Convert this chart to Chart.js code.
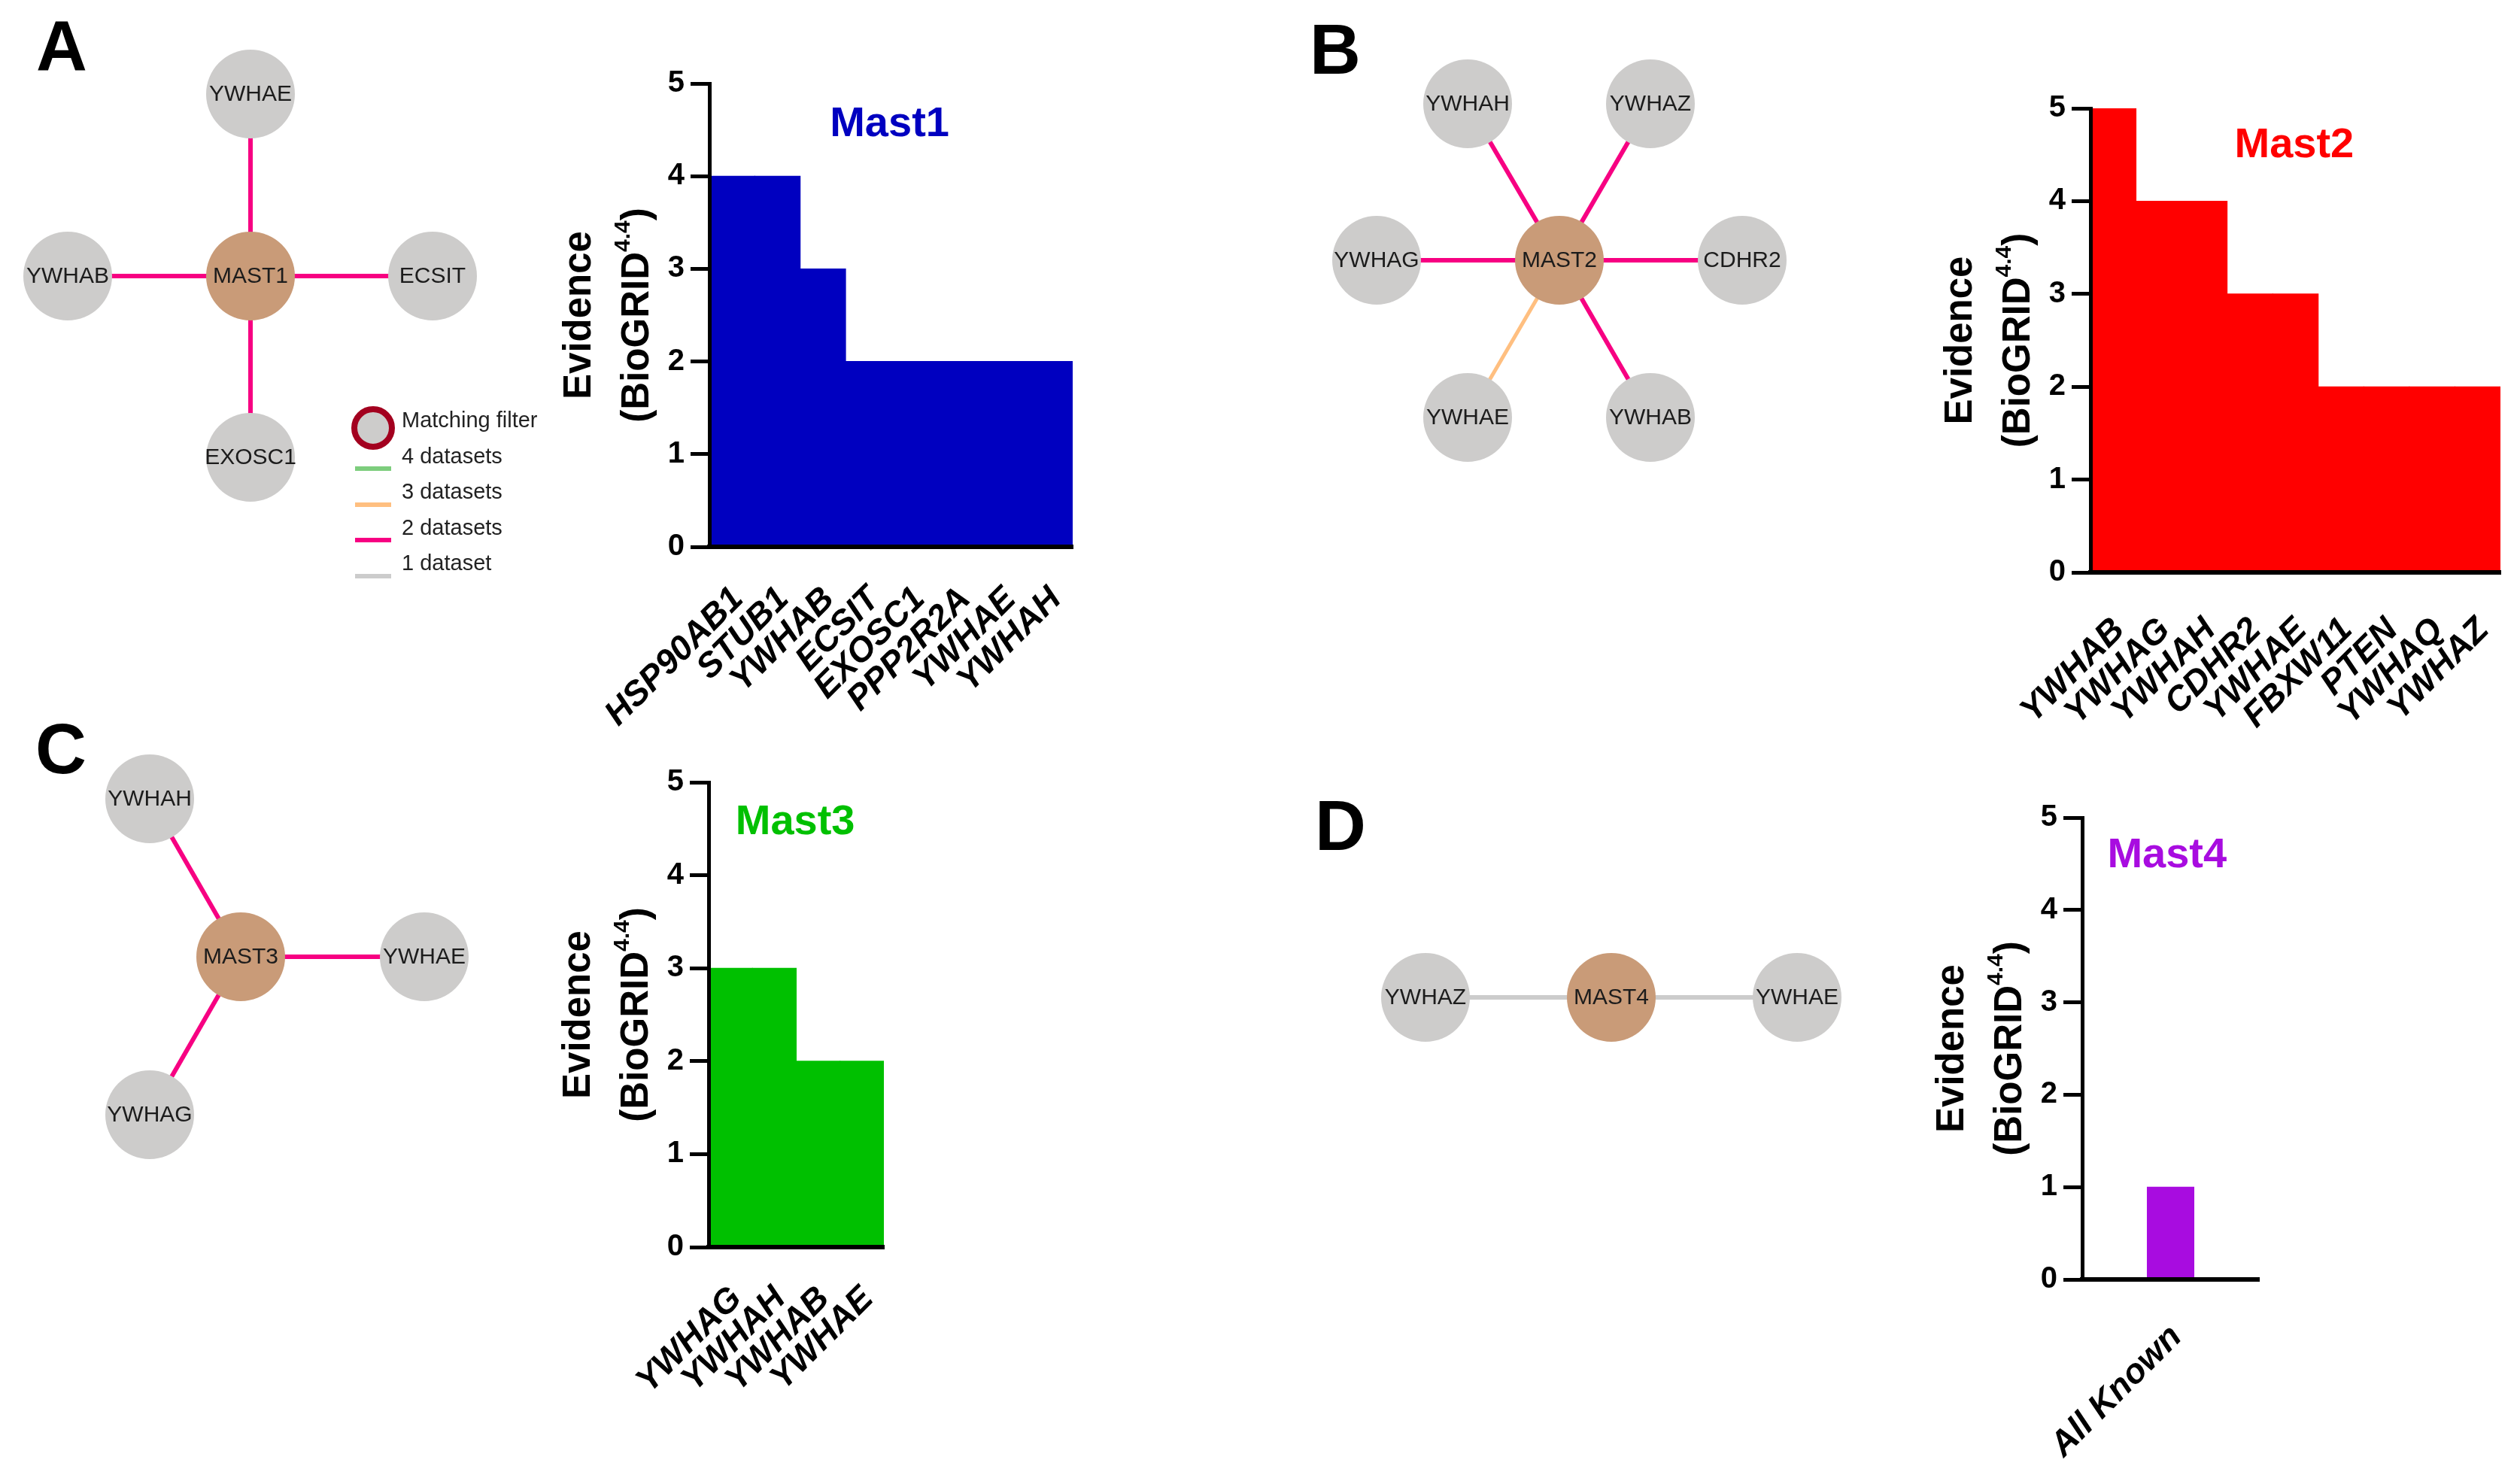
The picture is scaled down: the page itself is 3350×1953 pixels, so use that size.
<!DOCTYPE html>
<html>
<head>
<meta charset="utf-8">
<script src="https://cdn.jsdelivr.net/npm/chart.js"></script>
<style>
  body { margin: 0; width: 3350px; height: 1953px; position: relative; overflow: hidden; background: #fff; font-family: 'Liberation Sans', Arial, sans-serif; }
  canvas { position: absolute; }
  .letter { position: absolute; font-weight: bold; font-size: 94px; line-height: 94px; color: #000; }
  .key { position: absolute; font-size: 29px; line-height: 29px; color: #222; white-space: nowrap; }
  .swatch { position: absolute; width: 48px; height: 6px; }
  .ring { position: absolute; width: 58px; height: 58px; box-sizing: border-box; border: 8px solid #a3001f; border-radius: 50%; background: #cdcccb; }
</style>
</head>
<body>
<div class="letter" style="left:48px;top:15px">A</div>
<div class="letter" style="left:1741px;top:19px">B</div>
<div class="letter" style="left:47px;top:949px">C</div>
<div class="letter" style="left:1748px;top:1051px">D</div>
<script>
/* DATOS DE LOS GRAFICOS DE BARRAS */
const mast1Genes = ['HSP90AB1', 'STUB1', 'YWHAB', 'ECSIT', 'EXOSC1', 'PPP2R2A', 'YWHAE', 'YWHAH']
const mast1Evidence = [4, 4, 3, 2, 2, 2, 2, 2]
const mast2Genes = ['YWHAB', 'YWHAG', 'YWHAH', 'CDHR2', 'YWHAE', 'FBXW11', 'PTEN', 'YWHAQ', 'YWHAZ']
const mast2Evidence = [5, 4, 4, 3, 3, 2, 2, 2, 2]
const mast3Genes = ['YWHAG', 'YWHAH', 'YWHAB', 'YWHAE']
const mast3Evidence = [3, 3, 2, 2]
const mast4Genes = ['All Known']
const mast4Evidence = [1]
const yTicks = [0, 1, 2, 3, 4, 5]

/* DATOS DE LAS REDES: socios, posicion en el layout y numero de datasets de cada arista */
const mast1Partners = ['YWHAE', 'YWHAB', 'ECSIT', 'EXOSC1']
const mast1X = [0, -243, 242, 0]
const mast1Y = [242, 0, 0, -241]
const mast1Sets = [2, 2, 2, 2]
const mast2Partners = ['YWHAH', 'YWHAZ', 'YWHAG', 'CDHR2', 'YWHAE', 'YWHAB']
const mast2X = [-122, 121, -243, 243, -122, 121]
const mast2Y = [208, 208, 0, 0, -209, -209]
const mast2Sets = [2, 2, 2, 2, 3, 2]
const mast3Partners = ['YWHAH', 'YWHAE', 'YWHAG']
const mast3X = [-121, 244, -121]
const mast3Y = [210, 0, -210]
const mast3Sets = [2, 2, 2]
const mast4Partners = ['YWHAZ', 'YWHAE']
const mast4X = [-247, 247]
const mast4Y = [0, 0]
const mast4Sets = [1, 1]

const keyLabels = ['Matching filter', '4 datasets', '3 datasets', '2 datasets', '1 dataset']
const keySets = [null, 4, 3, 2, 1]

const FONT = "'Liberation Sans', Arial, sans-serif"
const edgeColor = { 4: '#7dcd7d', 3: '#ffbf80', 2: '#f70082', 1: '#cccccc' }
const edgeWidth = { 4: 6, 3: 5, 2: 6, 1: 6 }
Chart.defaults.font.family = FONT

/* CREA UN CANVAS POSICIONADO */
const addCanvas = (left, top, width, height) => {
    const c = document.createElement('canvas')
    c.width = width
    c.height = height
    c.style.left = left + 'px'
    c.style.top = top + 'px'
    c.style.width = width + 'px'
    c.style.height = height + 'px'
    document.body.appendChild(c)
    return c
}

/* TITULO DEL EJE Y EN DOS LINEAS CON SUPERINDICE */
const evidenceTitle = {
    id: 'evidenceTitle',
    afterDraw(chart) {
        const { ctx, chartArea: { left, top, bottom } } = chart
        const mid = (top + bottom) / 2
        ctx.save()
        ctx.fillStyle = '#000'
        ctx.textBaseline = 'alphabetic'
        ctx.translate(left - 158, mid)
        ctx.rotate(-Math.PI / 2)
        ctx.font = `bold 51px ${FONT}`
        ctx.textAlign = 'center'
        ctx.fillText('Evidence', 0, 0)
        ctx.restore()

        ctx.save()
        ctx.fillStyle = '#000'
        ctx.translate(left - 81, mid)
        ctx.rotate(-Math.PI / 2)
        ctx.textAlign = 'left'
        const big = `bold 51px ${FONT}`
        const small = `bold 30px ${FONT}`
        ctx.font = big
        const w1 = ctx.measureText('(BioGRID').width
        const w3 = ctx.measureText(')').width
        ctx.font = small
        const w2 = ctx.measureText('4.4').width
        let x = -(w1 + w2 + w3) / 2
        ctx.font = big
        ctx.fillText('(BioGRID', x, 0)
        x += w1
        ctx.font = small
        ctx.fillText('4.4', x, -25)
        x += w2
        ctx.font = big
        ctx.fillText(')', x, 0)
        ctx.restore()
    }
}

/* NOMBRE DE LA PROTEINA DENTRO DEL AREA DEL GRAFICO */
const panelTitle = (text, color, fx, fy) => ({
    id: 'panelTitle',
    afterDraw(chart) {
        const { ctx, chartArea: a } = chart
        ctx.save()
        ctx.font = `bold 56px ${FONT}`
        ctx.fillStyle = color
        ctx.textAlign = 'center'
        ctx.fillText(text, a.left + a.width * fx, a.top + a.height * fy)
        ctx.restore()
    }
})

/* GRAFICO DE BARRAS ESTILO PRISM */
const barChart = (cfg) => {
    const yAxisW = 230, padTop = 40, padRight = 40
    const canvas = addCanvas(cfg.axisX - yAxisW, cfg.y5 - padTop,
        yAxisW + (cfg.right - cfg.axisX) + padRight, padTop + (cfg.y0 - cfg.y5) + cfg.xAxisH)
    return new Chart(canvas, {
        type: 'bar',
        data: {
            labels: cfg.genes,
            datasets: [{ data: cfg.evidence, backgroundColor: cfg.color, borderWidth: 0, barPercentage: cfg.barPct, categoryPercentage: 1, inflateAmount: 0.5 }]
        },
        options: {
            responsive: false,
            animation: false,
            events: [],
            layout: { autoPadding: false, padding: { top: padTop, right: padRight, left: 0, bottom: 0 } },
            plugins: { legend: { display: false }, tooltip: { enabled: false } },
            scales: {
                x: {
                    grid: { display: false, drawTicks: false },
                    border: { display: true, color: '#000', width: 6, z: 1 },
                    ticks: { color: '#000', font: { size: 46, weight: 'bold', style: 'italic' }, minRotation: 45, maxRotation: 45, autoSkip: false, padding: cfg.labelPad, labelOffset: 8 },
                    afterFit: (scale) => {
                        scale.height = cfg.xAxisH
                        scale.paddingLeft = 0
                        scale.paddingRight = 0
                    }
                },
                y: {
                    min: 0,
                    max: 5,
                    grid: { drawOnChartArea: false, drawTicks: true, tickLength: 25, lineWidth: 5, color: '#000' },
                    border: { display: true, color: '#000', width: 5, z: 1 },
                    ticks: { color: '#000', font: { size: 40, weight: 'bold' }, padding: 8 },
                    afterBuildTicks: (scale) => { scale.ticks = yTicks.map(v => ({ value: v })) },
                    afterFit: (scale) => {
                        scale.width = yAxisW
                        scale.paddingTop = 0
                        scale.paddingBottom = 0
                    }
                }
            }
        },
        plugins: [evidenceTitle, panelTitle(cfg.title, cfg.color, cfg.fx, cfg.fy)]
    })
}

/* ETIQUETAS DE LOS NODOS */
const nodeLabels = {
    id: 'nodeLabels',
    afterDatasetsDraw(chart) {
        const { ctx } = chart
        const ds = chart.data.datasets[0]
        ctx.save()
        ctx.font = `30px ${FONT}`
        ctx.fillStyle = '#1c1c1c'
        ctx.textAlign = 'center'
        ctx.textBaseline = 'middle'
        chart.getDatasetMeta(0).data.forEach((p, i) => {
            ctx.fillText(ds.data[i].name, p.x, p.y + 1)
        })
        ctx.restore()
    }
}

/* RED DE INTERACCIONES: nodo central + socios */
const network = (hub, cx, cy, partners, xs, ys, sets) => {
    const R = 330
    const canvas = addCanvas(cx - R, cy - R, 2 * R, 2 * R)
    const nodes = [{ x: 0, y: 0, name: hub }, ...partners.map((name, i) => ({ x: xs[i], y: ys[i], name }))]
    const edges = partners.map((name, i) => ({
        data: [{ x: 0, y: 0 }, { x: xs[i], y: ys[i] }],
        showLine: true,
        borderColor: edgeColor[sets[i]],
        borderWidth: edgeWidth[sets[i]],
        pointRadius: 0,
        clip: false,
        order: 1
    }))
    return new Chart(canvas, {
        type: 'scatter',
        data: {
            datasets: [{
                data: nodes,
                pointRadius: 59,
                pointHoverRadius: 59,
                backgroundColor: nodes.map((n, i) => i === 0 ? '#c99b78' : '#cdcccb'),
                borderWidth: 0,
                clip: false,
                order: 0
            }, ...edges]
        },
        options: {
            responsive: false,
            animation: false,
            events: [],
            layout: { autoPadding: false, padding: 0 },
            plugins: { legend: { display: false }, tooltip: { enabled: false } },
            scales: {
                x: { type: 'linear', min: -R, max: R, display: false },
                y: { type: 'linear', min: -R, max: R, display: false }
            }
        },
        plugins: [nodeLabels]
    })
}

/* LEYENDA DEL PANEL A */
const drawKey = () => {
    keyLabels.forEach((label, i) => {
        const t = document.createElement('div')
        t.className = 'key'
        t.textContent = label
        t.style.left = '534px'
        t.style.top = (544 + i * 47.5) + 'px'
        document.body.appendChild(t)
        if (keySets[i] === null) {
            const r = document.createElement('div')
            r.className = 'ring'
            r.style.left = '467px'
            r.style.top = '540px'
            document.body.appendChild(r)
        } else {
            const s = document.createElement('div')
            s.className = 'swatch'
            s.style.left = '472px'
            s.style.top = (620 + (i - 1) * 47.5) + 'px'
            s.style.background = edgeColor[keySets[i]]
            document.body.appendChild(s)
        }
    })
}

network('MAST1', 333, 367, mast1Partners, mast1X, mast1Y, mast1Sets)
network('MAST2', 2073, 346, mast2Partners, mast2X, mast2Y, mast2Sets)
network('MAST3', 320, 1272, mast3Partners, mast3X, mast3Y, mast3Sets)
network('MAST4', 2142, 1326, mast4Partners, mast4X, mast4Y, mast4Sets)
drawKey()

barChart({ genes: mast1Genes, evidence: mast1Evidence, color: '#0000c0', title: 'Mast1', axisX: 943, y5: 111, y0: 727, right: 1426, xAxisH: 260, labelPad: 43, barPct: 1, fx: 0.496, fy: 0.114 })
barChart({ genes: mast2Genes, evidence: mast2Evidence, color: '#ff0000', title: 'Mast2', axisX: 2779, y5: 144, y0: 761, right: 3324, xAxisH: 260, labelPad: 50, barPct: 1, fx: 0.497, fy: 0.105 })
barChart({ genes: mast3Genes, evidence: mast3Evidence, color: '#00c000', title: 'Mast3', axisX: 942, y5: 1040, y0: 1658, right: 1175, xAxisH: 260, labelPad: 42, barPct: 1, fx: 0.494, fy: 0.112 })
barChart({ genes: mast4Genes, evidence: mast4Evidence, color: '#a80ce0', title: 'Mast4', axisX: 2768, y5: 1087, y0: 1701, right: 3003, xAxisH: 250, labelPad: 50, barPct: 0.264, fx: 0.48, fy: 0.108 })
</script>
</body>
</html>
